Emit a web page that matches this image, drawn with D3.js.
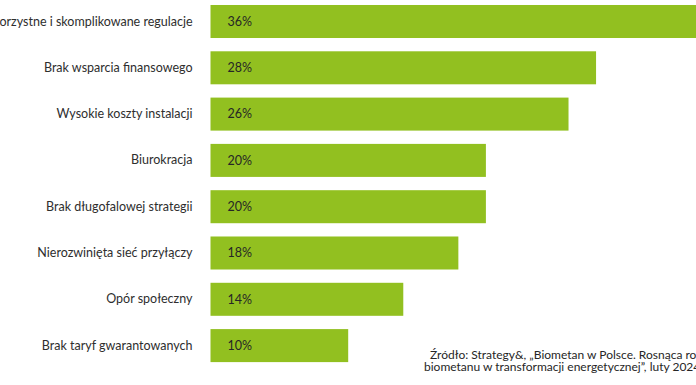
<!DOCTYPE html>
<html>
<head>
<meta charset="utf-8">
<script src="https://cdn.jsdelivr.net/npm/d3@7"></script>
<style>
  body { margin: 0; background: #fff; }
  svg { display: block; font-family: Lato, "Open Sans", sans-serif; }
</style>
</head>
<body>
<div id="chart"></div>
<script>
// data
const categories = [
	"Niekorzystne i skomplikowane regulacje",
	"Brak wsparcia finansowego",
	"Wysokie koszty instalacji",
	"Biurokracja",
	"Brak długofalowej strategii",
	"Nierozwinięta sieć przyłączy",
	"Opór społeczny",
	"Brak taryf gwarantowanych"
];
const values = [36, 28, 26, 20, 20, 18, 14, 10];
const sourceLines = [
	"Źródło: Strategy&, „Biometan w Polsce. Rosnąca rola",
	"biometanu w transformacji energetycznej”, luty 2024"
];

let width = 696;
let height = 385;

let svg = d3.select("#chart").append("svg")
	.attr("width", width)
	.attr("height", height);

let data = categories.map((c, i) => ({ cat: c, val: values[i] }));

// scales
let x = d3.scaleLinear()
	.domain([0, 10])
	.range([210.5, 348.2]);

let y = d3.scaleBand()
	.domain(categories)
	.range([-1.65, 368.75])
	.paddingInner(0.287)
	.paddingOuter(0.1435);

// bars
svg.selectAll("rect.bar")
	.data(data)
	.join("rect")
	.attr("class", "bar")
	.attr("x", x(0))
	.attr("y", d => y(d.cat))
	.attr("width", d => x(d.val) - x(0))
	.attr("height", y.bandwidth())
	.attr("fill", "#92c020");

// value labels inside bars
svg.selectAll("text.val")
	.data(data)
	.join("text")
	.attr("class", "val")
	.attr("x", x(0) + 17)
	.attr("y", d => y(d.cat) + y.bandwidth() / 2)
	.attr("dy", "0.35em")
	.attr("font-size", 12.5)
	.attr("fill", "#262626")
	.text(d => d.val + "%");

// category labels (axis without line)
let yAxis = d3.axisLeft(y).tickSize(0).tickPadding(0);
let gy = svg.append("g")
	.attr("transform", `translate(${x(0) - 18},0)`)
	.call(yAxis);
gy.select(".domain").remove();
gy.selectAll("text")
	.attr("font-family", "Lato, sans-serif")
	.attr("font-size", 12.5)
	.attr("fill", "#2e2e2e");

// source note
svg.selectAll("text.src")
	.data(sourceLines)
	.join("text")
	.attr("class", "src")
	.attr("x", (d, i) => i === 0 ? 430 : 424)
	.attr("y", (d, i) => 359 + i * 12)
	.attr("font-size", 12)
	.attr("fill", "#262626")
	.text(d => d);
</script>
</body>
</html>
